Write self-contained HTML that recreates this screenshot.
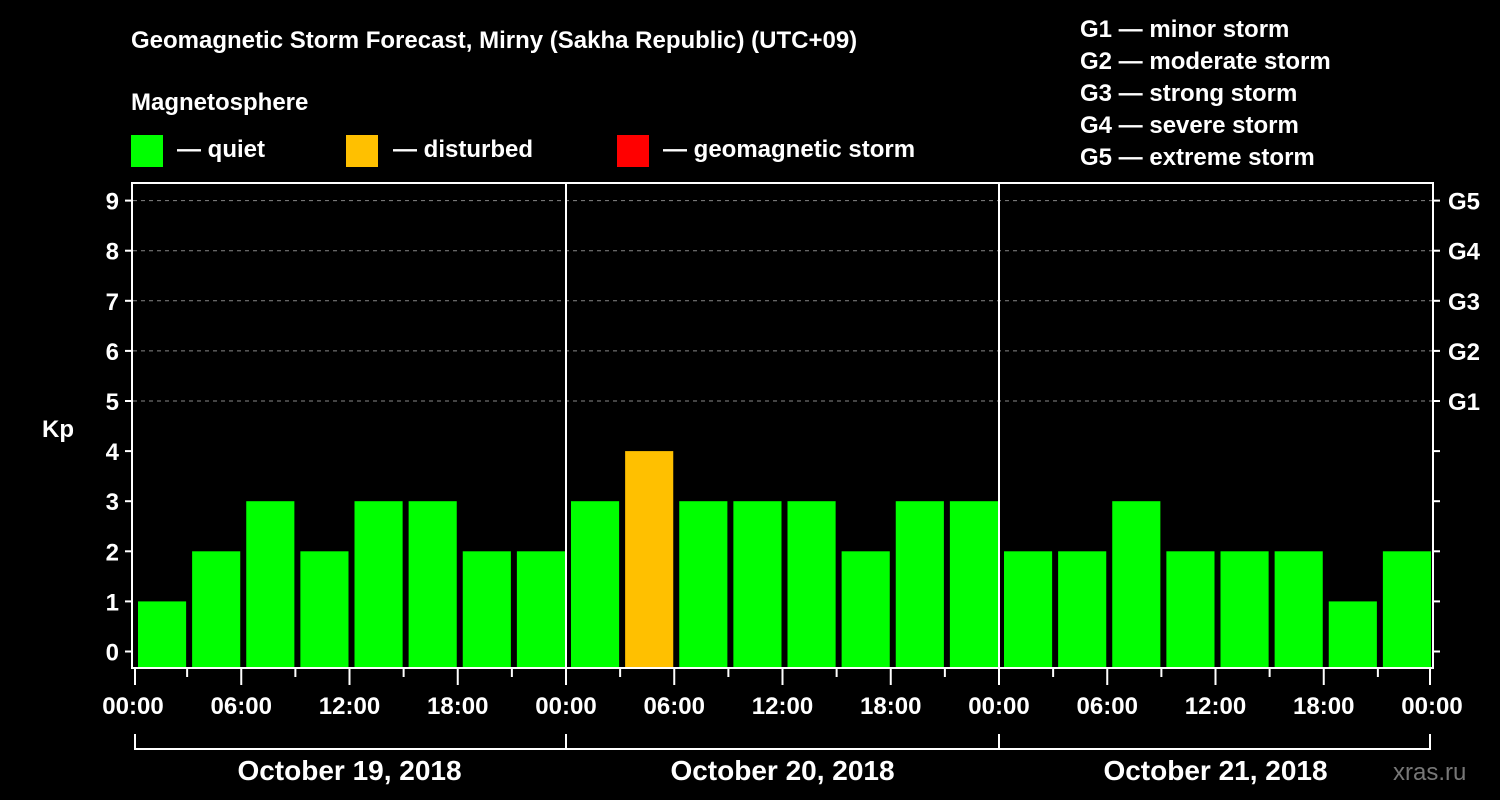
<!DOCTYPE html>
<html><head><meta charset="utf-8"><style>
html,body{margin:0;padding:0;background:#000;}
svg{display:block;font-family:"Liberation Sans",Arial,sans-serif;font-weight:bold;}
</style></head><body>
<svg id="chart" width="1500" height="800" viewBox="0 0 1500 800" xmlns="http://www.w3.org/2000/svg">
<rect width="1500" height="800" fill="#000"/>
<text x="131" y="48" fill="#fff" font-size="24">Geomagnetic Storm Forecast, Mirny (Sakha Republic) (UTC+09)</text>
<text x="131" y="110" fill="#fff" font-size="24">Magnetosphere</text>
<g>
<rect x="131" y="135" width="32" height="32" fill="#00ff00"/>
<text x="177" y="157" fill="#fff" font-size="24">— quiet</text>
<rect x="346" y="135" width="32" height="32" fill="#ffc000"/>
<text x="393" y="157" fill="#fff" font-size="24">— disturbed</text>
<rect x="617" y="135" width="32" height="32" fill="#ff0000"/>
<text x="663" y="157" fill="#fff" font-size="24">— geomagnetic storm</text>
</g>
<g fill="#fff" font-size="24">
<text x="1080" y="37">G1 — minor storm</text>
<text x="1080" y="69">G2 — moderate storm</text>
<text x="1080" y="101">G3 — strong storm</text>
<text x="1080" y="133">G4 — severe storm</text>
<text x="1080" y="165">G5 — extreme storm</text>
</g>
<text x="42" y="437" fill="#fff" font-size="24">Kp</text>
<text x="1393" y="780" fill="#777" font-size="24" font-weight="normal">xras.ru</text>
<g id="grid"></g><g id="bars"></g><g id="axes"></g>
</svg>
<script>
const days = ["October 19, 2018","October 20, 2018","October 21, 2018"];
const hourLabels = ["00:00","06:00","12:00","18:00"];
const kpValues = [1,2,3,2,3,3,2,2, 3,4,3,3,3,2,3,3, 2,2,3,2,2,2,1,2];
const yTicks = [0,1,2,3,4,5,6,7,8,9];
const gLabels = ["G1","G2","G3","G4","G5"];

const NS="http://www.w3.org/2000/svg";
const X0=133, X1=1432, TOP=183, BOT=667;
const slot=(X1-X0)/kpValues.length;
const y=v=>651.5-v*50.1;
const x=i=>X0+i*slot;
function mk(tag,attrs,parent){const e=document.createElementNS(NS,tag);for(const k in attrs)e.setAttribute(k,attrs[k]);parent.appendChild(e);return e;}
const grid=document.getElementById('grid'),bars=document.getElementById('bars'),axes=document.getElementById('axes');
yTicks.forEach(v=>{
  if(v>=5){const l=mk('line',{x1:X0,x2:X1,y1:y(v),y2:y(v),stroke:'#888','stroke-width':1,'stroke-dasharray':'4,4'},grid);
  
  }
  const t=mk('line',{x1:X0-8,x2:X0,y1:y(v),y2:y(v),stroke:'#fff','stroke-width':2},axes);
  
  
  const t2=mk('line',{x1:X1,x2:X1+8,y1:y(v),y2:y(v),stroke:'#fff','stroke-width':2},axes);
  
  
  const tx=mk('text',{x:X0-14,y:y(v)+9,fill:'#fff','font-size':24,'text-anchor':'end'},axes);tx.textContent=v;
  
  
});
gLabels.forEach((g,i)=>{
  const tx=mk('text',{x:X1+16,y:y(5+i)+9,fill:'#fff','font-size':24},axes);tx.textContent=g;
  
  
});
kpValues.forEach((v,i)=>{
  const col=v>=5?'#ff0000':(v>=4?'#ffc000':'#00ff00');
  const r=mk('rect',{x:x(i)+5,y:y(v),width:slot-6,height:BOT-y(v),fill:col},bars);
  
  
});
const frame=mk('rect',{x:X0-1,y:TOP,width:X1-X0+2,height:BOT-TOP+1,fill:'none',stroke:'#fff','stroke-width':2},axes);


const perDay=kpValues.length/days.length;
for(let d=1;d<days.length;d++){
  const l=mk('line',{x1:x(d*perDay),x2:x(d*perDay),y1:TOP,y2:BOT,stroke:'#fff','stroke-width':2},axes);
  
  
}
for(let i=0;i<=kpValues.length;i++){
  const major=i%2===0;
  const xx=x(i)+ (i===0?2:(i===kpValues.length?-2:0));
  const l=mk('line',{x1:xx,x2:xx,y1:BOT+1,y2:major?BOT+18:BOT+10,stroke:'#fff','stroke-width':2},axes);
  
  
  if(major){
    const t=mk('text',{x:x(i),y:714,fill:'#fff','font-size':24,'text-anchor':'middle'},axes);
    t.textContent=hourLabels[(i/2)%hourLabels.length];
    
    
  }
}
const br=mk('line',{x1:X0+2,x2:X1-2,y1:749,y2:749,stroke:'#fff','stroke-width':2},axes);


for(let d=0;d<=days.length;d++){
  const xx=x(d*perDay)+(d===0?2:(d===days.length?-2:0));
  const l=mk('line',{x1:xx,x2:xx,y1:734,y2:750,stroke:'#fff','stroke-width':2},axes);
  
  
}
days.forEach((dname,d)=>{
  const t=mk('text',{x:(x(d*perDay)+x((d+1)*perDay))/2,y:780,fill:'#fff','font-size':28,'text-anchor':'middle'},axes);
  t.textContent=dname;
  
  
});
</script>
</body></html>
